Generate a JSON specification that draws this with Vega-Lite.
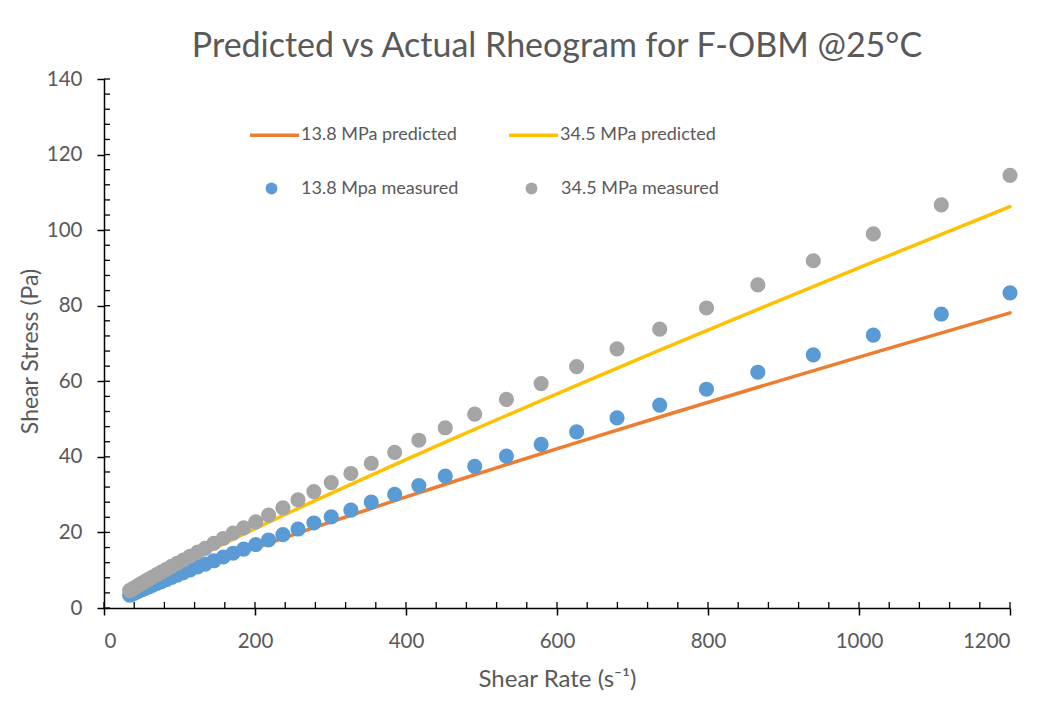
{
  "$schema": "https://vega.github.io/schema/vega-lite/v6.json",
  "width": 906,
  "height": 529,
  "autosize": {"type": "none"},
  "padding": {"left": 104, "top": 79, "right": 42, "bottom": 99},
  "background": "#ffffff",
  "config": {
    "font": "Lato",
    "view": {"stroke": null},
    "axis": {"grid": false}
  },
  "title": {
    "text": "Predicted vs Actual Rheogram for F-OBM @25°C",
    "anchor": "middle",
    "fontSize": 34,
    "fontWeight": "normal",
    "color": "#595959",
    "offset": 5
  },
  "datasets": {
    "xticks": [
      {"v": 0}, {"v": 40}, {"v": 80}, {"v": 120}, {"v": 160}, {"v": 200}, {"v": 240}, {"v": 280},
      {"v": 320}, {"v": 360}, {"v": 400}, {"v": 440}, {"v": 480}, {"v": 520}, {"v": 560}, {"v": 600},
      {"v": 640}, {"v": 680}, {"v": 720}, {"v": 760}, {"v": 800}, {"v": 840}, {"v": 880}, {"v": 920},
      {"v": 960}, {"v": 1000}, {"v": 1040}, {"v": 1080}, {"v": 1120}, {"v": 1160}, {"v": 1200}
    ],
    "yticks": [
      {"v": 0}, {"v": 4}, {"v": 8}, {"v": 12}, {"v": 16}, {"v": 20}, {"v": 24}, {"v": 28}, {"v": 32},
      {"v": 36}, {"v": 40}, {"v": 44}, {"v": 48}, {"v": 52}, {"v": 56}, {"v": 60}, {"v": 64}, {"v": 68},
      {"v": 72}, {"v": 76}, {"v": 80}, {"v": 84}, {"v": 88}, {"v": 92}, {"v": 96}, {"v": 100}, {"v": 104},
      {"v": 108}, {"v": 112}, {"v": 116}, {"v": 120}, {"v": 124}, {"v": 128}, {"v": 132}, {"v": 136}, {"v": 140}
    ],
    "predicted": [
      {"rate": 34, "stress": 3.27, "series": "13.8 MPa predicted"},
      {"rate": 39.5, "stress": 3.74, "series": "13.8 MPa predicted"},
      {"rate": 46.5, "stress": 4.33, "series": "13.8 MPa predicted"},
      {"rate": 55, "stress": 5.02, "series": "13.8 MPa predicted"},
      {"rate": 64.5, "stress": 5.79, "series": "13.8 MPa predicted"},
      {"rate": 76, "stress": 6.7, "series": "13.8 MPa predicted"},
      {"rate": 89.5, "stress": 7.75, "series": "13.8 MPa predicted"},
      {"rate": 105, "stress": 8.93, "series": "13.8 MPa predicted"},
      {"rate": 124, "stress": 10.36, "series": "13.8 MPa predicted"},
      {"rate": 145.5, "stress": 11.94, "series": "13.8 MPa predicted"},
      {"rate": 171, "stress": 13.79, "series": "13.8 MPa predicted"},
      {"rate": 201, "stress": 15.92, "series": "13.8 MPa predicted"},
      {"rate": 237, "stress": 18.44, "series": "13.8 MPa predicted"},
      {"rate": 278, "stress": 21.25, "series": "13.8 MPa predicted"},
      {"rate": 327, "stress": 24.55, "series": "13.8 MPa predicted"},
      {"rate": 385, "stress": 28.4, "series": "13.8 MPa predicted"},
      {"rate": 452, "stress": 32.76, "series": "13.8 MPa predicted"},
      {"rate": 533, "stress": 37.93, "series": "13.8 MPa predicted"},
      {"rate": 626, "stress": 43.77, "series": "13.8 MPa predicted"},
      {"rate": 736, "stress": 50.55, "series": "13.8 MPa predicted"},
      {"rate": 866, "stress": 58.42, "series": "13.8 MPa predicted"},
      {"rate": 1019, "stress": 67.52, "series": "13.8 MPa predicted"},
      {"rate": 1200, "stress": 78.1, "series": "13.8 MPa predicted"},
      {"rate": 34, "stress": 4.22, "series": "34.5 MPa predicted"},
      {"rate": 39.5, "stress": 4.83, "series": "34.5 MPa predicted"},
      {"rate": 46.5, "stress": 5.6, "series": "34.5 MPa predicted"},
      {"rate": 55, "stress": 6.52, "series": "34.5 MPa predicted"},
      {"rate": 64.5, "stress": 7.53, "series": "34.5 MPa predicted"},
      {"rate": 76, "stress": 8.74, "series": "34.5 MPa predicted"},
      {"rate": 89.5, "stress": 10.13, "series": "34.5 MPa predicted"},
      {"rate": 105, "stress": 11.71, "series": "34.5 MPa predicted"},
      {"rate": 124, "stress": 13.61, "series": "34.5 MPa predicted"},
      {"rate": 145.5, "stress": 15.73, "series": "34.5 MPa predicted"},
      {"rate": 171, "stress": 18.21, "series": "34.5 MPa predicted"},
      {"rate": 201, "stress": 21.08, "series": "34.5 MPa predicted"},
      {"rate": 237, "stress": 24.47, "series": "34.5 MPa predicted"},
      {"rate": 278, "stress": 28.27, "series": "34.5 MPa predicted"},
      {"rate": 327, "stress": 32.74, "series": "34.5 MPa predicted"},
      {"rate": 385, "stress": 37.96, "series": "34.5 MPa predicted"},
      {"rate": 452, "stress": 43.89, "series": "34.5 MPa predicted"},
      {"rate": 533, "stress": 50.95, "series": "34.5 MPa predicted"},
      {"rate": 626, "stress": 58.93, "series": "34.5 MPa predicted"},
      {"rate": 736, "stress": 68.23, "series": "34.5 MPa predicted"},
      {"rate": 866, "stress": 79.06, "series": "34.5 MPa predicted"},
      {"rate": 1019, "stress": 91.6, "series": "34.5 MPa predicted"},
      {"rate": 1200, "stress": 106.2, "series": "34.5 MPa predicted"}
    ],
    "measured": [
      {"rate": 1200, "stress": 83.4, "series": "13.8 Mpa measured"},
      {"rate": 1109, "stress": 77.8, "series": "13.8 Mpa measured"},
      {"rate": 1019, "stress": 72.2, "series": "13.8 Mpa measured"},
      {"rate": 939.5, "stress": 67.0, "series": "13.8 Mpa measured"},
      {"rate": 866, "stress": 62.4, "series": "13.8 Mpa measured"},
      {"rate": 798, "stress": 57.9, "series": "13.8 Mpa measured"},
      {"rate": 736, "stress": 53.7, "series": "13.8 Mpa measured"},
      {"rate": 679.5, "stress": 50.3, "series": "13.8 Mpa measured"},
      {"rate": 626, "stress": 46.6, "series": "13.8 Mpa measured"},
      {"rate": 579, "stress": 43.3, "series": "13.8 Mpa measured"},
      {"rate": 533, "stress": 40.2, "series": "13.8 Mpa measured"},
      {"rate": 491, "stress": 37.5, "series": "13.8 Mpa measured"},
      {"rate": 452, "stress": 34.9, "series": "13.8 Mpa measured"},
      {"rate": 417, "stress": 32.4, "series": "13.8 Mpa measured"},
      {"rate": 385, "stress": 30.1, "series": "13.8 Mpa measured"},
      {"rate": 354, "stress": 28.0, "series": "13.8 Mpa measured"},
      {"rate": 327, "stress": 25.9, "series": "13.8 Mpa measured"},
      {"rate": 301, "stress": 24.1, "series": "13.8 Mpa measured"},
      {"rate": 278, "stress": 22.5, "series": "13.8 Mpa measured"},
      {"rate": 257, "stress": 20.9, "series": "13.8 Mpa measured"},
      {"rate": 237, "stress": 19.4, "series": "13.8 Mpa measured"},
      {"rate": 218, "stress": 18.0, "series": "13.8 Mpa measured"},
      {"rate": 201, "stress": 16.8, "series": "13.8 Mpa measured"},
      {"rate": 185, "stress": 15.6, "series": "13.8 Mpa measured"},
      {"rate": 171, "stress": 14.5, "series": "13.8 Mpa measured"},
      {"rate": 158, "stress": 13.5, "series": "13.8 Mpa measured"},
      {"rate": 145.5, "stress": 12.5, "series": "13.8 Mpa measured"},
      {"rate": 134, "stress": 11.6, "series": "13.8 Mpa measured"},
      {"rate": 124, "stress": 10.9, "series": "13.8 Mpa measured"},
      {"rate": 114, "stress": 10.1, "series": "13.8 Mpa measured"},
      {"rate": 105, "stress": 9.36, "series": "13.8 Mpa measured"},
      {"rate": 97, "stress": 8.72, "series": "13.8 Mpa measured"},
      {"rate": 89.5, "stress": 8.11, "series": "13.8 Mpa measured"},
      {"rate": 82.5, "stress": 7.53, "series": "13.8 Mpa measured"},
      {"rate": 76, "stress": 7.0, "series": "13.8 Mpa measured"},
      {"rate": 70, "stress": 6.5, "series": "13.8 Mpa measured"},
      {"rate": 64.5, "stress": 6.04, "series": "13.8 Mpa measured"},
      {"rate": 59.5, "stress": 5.62, "series": "13.8 Mpa measured"},
      {"rate": 55, "stress": 5.24, "series": "13.8 Mpa measured"},
      {"rate": 50.5, "stress": 4.85, "series": "13.8 Mpa measured"},
      {"rate": 46.5, "stress": 4.5, "series": "13.8 Mpa measured"},
      {"rate": 43, "stress": 4.2, "series": "13.8 Mpa measured"},
      {"rate": 39.5, "stress": 3.89, "series": "13.8 Mpa measured"},
      {"rate": 36.5, "stress": 3.62, "series": "13.8 Mpa measured"},
      {"rate": 34, "stress": 3.4, "series": "13.8 Mpa measured"},
      {"rate": 1200, "stress": 114.5, "series": "34.5 MPa measured"},
      {"rate": 1109, "stress": 106.7, "series": "34.5 MPa measured"},
      {"rate": 1019, "stress": 99.0, "series": "34.5 MPa measured"},
      {"rate": 939.5, "stress": 91.9, "series": "34.5 MPa measured"},
      {"rate": 866, "stress": 85.5, "series": "34.5 MPa measured"},
      {"rate": 798, "stress": 79.4, "series": "34.5 MPa measured"},
      {"rate": 736, "stress": 73.8, "series": "34.5 MPa measured"},
      {"rate": 679.5, "stress": 68.6, "series": "34.5 MPa measured"},
      {"rate": 626, "stress": 63.9, "series": "34.5 MPa measured"},
      {"rate": 579, "stress": 59.4, "series": "34.5 MPa measured"},
      {"rate": 533, "stress": 55.2, "series": "34.5 MPa measured"},
      {"rate": 491, "stress": 51.3, "series": "34.5 MPa measured"},
      {"rate": 452, "stress": 47.7, "series": "34.5 MPa measured"},
      {"rate": 417, "stress": 44.4, "series": "34.5 MPa measured"},
      {"rate": 385, "stress": 41.2, "series": "34.5 MPa measured"},
      {"rate": 354, "stress": 38.3, "series": "34.5 MPa measured"},
      {"rate": 327, "stress": 35.6, "series": "34.5 MPa measured"},
      {"rate": 301, "stress": 33.2, "series": "34.5 MPa measured"},
      {"rate": 278, "stress": 30.8, "series": "34.5 MPa measured"},
      {"rate": 257, "stress": 28.6, "series": "34.5 MPa measured"},
      {"rate": 237, "stress": 26.5, "series": "34.5 MPa measured"},
      {"rate": 218, "stress": 24.6, "series": "34.5 MPa measured"},
      {"rate": 201, "stress": 22.8, "series": "34.5 MPa measured"},
      {"rate": 185, "stress": 21.2, "series": "34.5 MPa measured"},
      {"rate": 171, "stress": 19.8, "series": "34.5 MPa measured"},
      {"rate": 158, "stress": 18.4, "series": "34.5 MPa measured"},
      {"rate": 145.5, "stress": 17.1, "series": "34.5 MPa measured"},
      {"rate": 134, "stress": 15.8, "series": "34.5 MPa measured"},
      {"rate": 124, "stress": 14.8, "series": "34.5 MPa measured"},
      {"rate": 114, "stress": 13.7, "series": "34.5 MPa measured"},
      {"rate": 105, "stress": 12.7, "series": "34.5 MPa measured"},
      {"rate": 97, "stress": 11.8, "series": "34.5 MPa measured"},
      {"rate": 89.5, "stress": 11.0, "series": "34.5 MPa measured"},
      {"rate": 82.5, "stress": 10.2, "series": "34.5 MPa measured"},
      {"rate": 76, "stress": 9.5, "series": "34.5 MPa measured"},
      {"rate": 70, "stress": 8.83, "series": "34.5 MPa measured"},
      {"rate": 64.5, "stress": 8.2, "series": "34.5 MPa measured"},
      {"rate": 59.5, "stress": 7.62, "series": "34.5 MPa measured"},
      {"rate": 55, "stress": 7.1, "series": "34.5 MPa measured"},
      {"rate": 50.5, "stress": 6.57, "series": "34.5 MPa measured"},
      {"rate": 46.5, "stress": 6.1, "series": "34.5 MPa measured"},
      {"rate": 43, "stress": 5.69, "series": "34.5 MPa measured"},
      {"rate": 39.5, "stress": 5.27, "series": "34.5 MPa measured"},
      {"rate": 36.5, "stress": 4.9, "series": "34.5 MPa measured"},
      {"rate": 34, "stress": 4.6, "series": "34.5 MPa measured"}
    ]
  },
  "layer": [
    {
      "data": {"name": "predicted"},
      "mark": {"type": "line", "strokeWidth": 3.5, "strokeCap": "round"},
      "encoding": {
        "x": {
          "field": "rate", "type": "quantitative",
          "scale": {"domain": [0, 1200], "nice": false},
          "axis": {
            "orient": "bottom",
            "values": [0, 200, 400, 600, 800, 1000, 1200],
            "format": "d",
            "title": "Shear Rate (s⁻¹)",
            "domainColor": "#000000", "domainWidth": 1.5,
            "tickColor": "#000000", "tickWidth": 1.5, "tickSize": 7,
            "labelFontSize": 20.5, "labelColor": "#595959", "labelPadding": 16,
            "titleFontSize": 24, "titleFontWeight": "normal", "titleColor": "#595959", "titlePadding": 16
          }
        },
        "y": {
          "field": "stress", "type": "quantitative",
          "scale": {"domain": [0, 140], "nice": false},
          "axis": {
            "orient": "left",
            "values": [0, 20, 40, 60, 80, 100, 120, 140],
            "title": "Shear Stress (Pa)",
            "domainColor": "#000000", "domainWidth": 1.5,
            "tickColor": "#000000", "tickWidth": 1.5, "tickSize": 7,
            "labelFontSize": 20.5, "labelColor": "#595959", "labelPadding": 15,
            "titleFontSize": 23, "titleFontWeight": "normal", "titleColor": "#595959", "titlePadding": 4,
            "titleY": 272
          }
        },
        "stroke": {
          "field": "series", "type": "nominal",
          "scale": {
            "domain": ["13.8 MPa predicted", "34.5 MPa predicted"],
            "range": ["#ED7D31", "#FFC000"]
          },
          "legend": {
            "orient": "none", "legendX": 144, "legendY": 29.5,
            "direction": "horizontal", "columns": 2, "columnPadding": 45,
            "title": null, "padding": 0,
            "symbolType": "stroke", "symbolSize": 2401, "symbolStrokeWidth": 3.5,
            "labelOffset": 0, "labelFontSize": 18, "labelColor": "#595959", "labelLimit": 300
          }
        }
      }
    },
    {
      "data": {"name": "measured"},
      "mark": {"type": "point", "filled": true, "opacity": 1, "size": 230, "strokeWidth": 0},
      "encoding": {
        "x": {"field": "rate", "type": "quantitative"},
        "y": {"field": "stress", "type": "quantitative"},
        "fill": {
          "field": "series", "type": "nominal",
          "scale": {
            "domain": ["13.8 Mpa measured", "34.5 MPa measured"],
            "range": ["#5B9BD5", "#A5A5A5"]
          },
          "legend": {
            "orient": "none", "legendX": 158.5, "legendY": 100.5,
            "direction": "horizontal", "columns": 2, "columnPadding": 64,
            "title": null, "padding": 0,
            "symbolType": "circle", "symbolSize": 140, "symbolStrokeWidth": 0,
            "labelOffset": 20.5, "labelFontSize": 18, "labelColor": "#595959", "labelLimit": 300
          }
        }
      }
    },
    {
      "data": {"name": "xticks"},
      "mark": {"type": "tick", "orient": "vertical", "size": 6, "thickness": 1.3, "yOffset": -3, "color": "#000000", "opacity": 1},
      "encoding": {
        "x": {"field": "v", "type": "quantitative"},
        "y": {"datum": 0, "type": "quantitative"}
      }
    },
    {
      "data": {"name": "yticks"},
      "mark": {"type": "tick", "orient": "horizontal", "size": 6, "thickness": 1.3, "xOffset": 3, "color": "#000000", "opacity": 1},
      "encoding": {
        "x": {"datum": 0, "type": "quantitative"},
        "y": {"field": "v", "type": "quantitative"}
      }
    }
  ]
}
